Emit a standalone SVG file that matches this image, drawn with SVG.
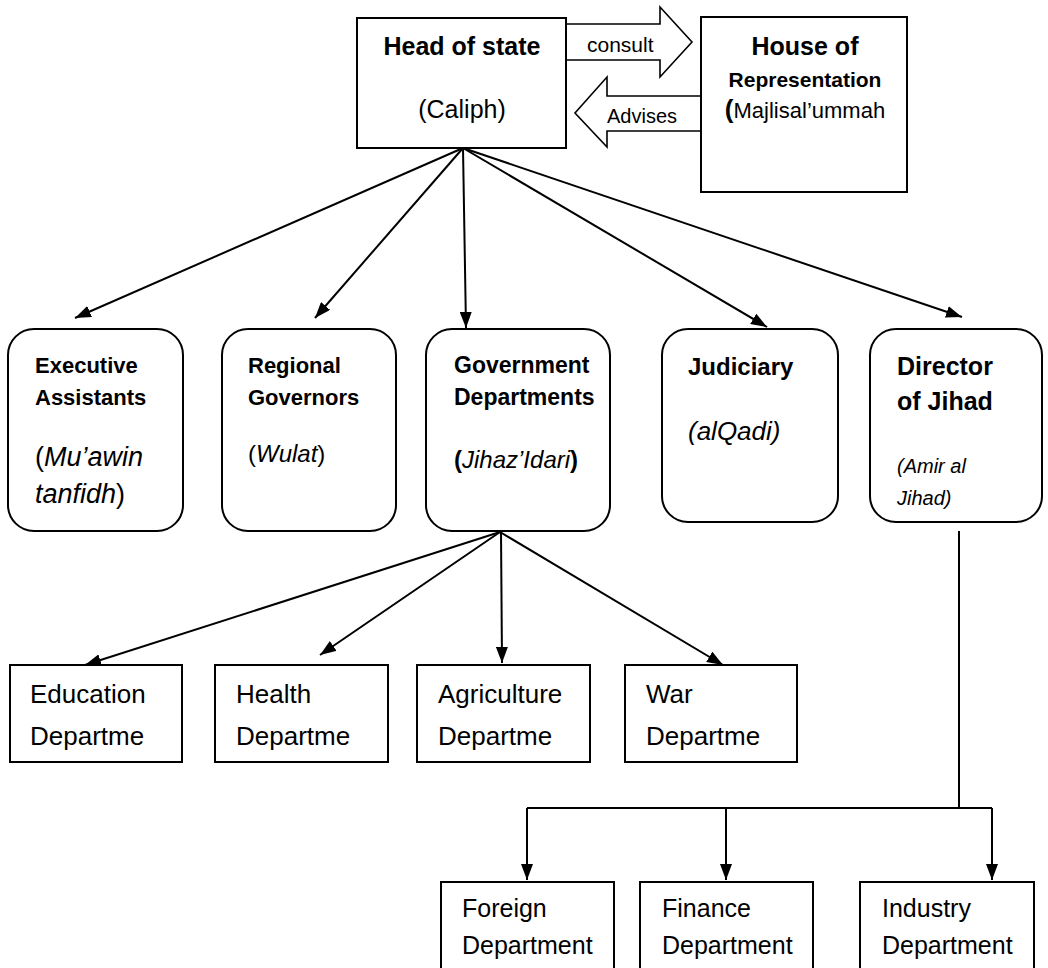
<svg xmlns="http://www.w3.org/2000/svg" width="1048" height="968" viewBox="0 0 1048 968">
<style>
.box{fill:#fff;stroke:#000;stroke-width:2}
.ln{fill:none;stroke:#000;stroke-width:2}
.blk{fill:#fff;stroke:#000;stroke-width:1.6}
text{font-family:"Liberation Sans",Arial,sans-serif;fill:#000}
.b{font-weight:bold}
.i{font-style:italic}
</style>
<defs>
<marker id="ah" viewBox="0 0 16 12" refX="16" refY="6" markerWidth="16" markerHeight="12" markerUnits="userSpaceOnUse" orient="auto">
<path d="M0,0 L16,6 L0,12 z" fill="#000"/>
</marker>
</defs>
<rect width="1048" height="968" fill="#fff"/>

<g id="connectors">
<polygon class="blk" points="566,24 660,24 660,7 692,42 660,77 660,60 566,60"/>
<text x="587" y="52" font-size="21">consult</text>
<polygon class="blk" points="701,96 607,96 607,77 575,113 607,147 607,131 701,131"/>
<text x="607" y="123" font-size="20">Advises</text>
<g marker-end="url(#ah)">
<line class="ln" x1="463" y1="148" x2="75" y2="318"/>
<line class="ln" x1="463" y1="148" x2="315" y2="318"/>
<line class="ln" x1="463" y1="148" x2="466" y2="328"/>
<line class="ln" x1="463" y1="148" x2="767" y2="327"/>
<line class="ln" x1="463" y1="148" x2="962" y2="317"/>
<line class="ln" x1="500" y1="532" x2="85" y2="665"/>
<line class="ln" x1="500" y1="532" x2="320" y2="655"/>
<line class="ln" x1="501" y1="532" x2="502" y2="663"/>
<line class="ln" x1="500" y1="532" x2="723" y2="665"/>
<line class="ln" x1="527" y1="808" x2="527" y2="880"/>
<line class="ln" x1="726" y1="808" x2="726" y2="880"/>
<line class="ln" x1="992" y1="808" x2="992" y2="880"/>
</g>
<polyline class="ln" points="959,531 959,808"/>
<polyline class="ln" points="527,808 992,808"/>
</g>

<g id="head">
<rect class="box" x="357" y="18" width="209" height="130"/>
<text class="b" x="462" y="55" font-size="25" text-anchor="middle">Head of state</text>
<text x="462" y="118" font-size="25" text-anchor="middle">(Caliph)</text>
</g>

<g id="house">
<rect class="box" x="701" y="17" width="206" height="175"/>
<text class="b" x="805" y="55" font-size="25" text-anchor="middle">House of</text>
<text class="b" x="805" y="87" font-size="21" text-anchor="middle">Representation</text>
<text x="805" y="118" font-size="22" text-anchor="middle"><tspan class="b" font-size="26">(</tspan>Majlisal’ummah</text>
</g>

<g id="executive">
<rect class="box" x="8" y="329" width="175" height="202" rx="26"/>
<text class="b" x="35" y="373" font-size="22">Executive</text>
<text class="b" x="35" y="405" font-size="22">Assistants</text>
<text x="35" y="466" font-size="27">(<tspan class="i">Mu’awin</tspan></text>
<text x="35" y="503" font-size="27"><tspan class="i">tanfidh</tspan>)</text>
</g>

<g id="regional">
<rect class="box" x="222" y="329" width="174" height="202" rx="26"/>
<text class="b" x="248" y="373" font-size="22">Regional</text>
<text class="b" x="248" y="405" font-size="22">Governors</text>
<text x="248" y="462" font-size="24">(<tspan class="i">Wulat</tspan>)</text>
</g>

<g id="government">
<rect class="box" x="426" y="329" width="184" height="202" rx="26"/>
<text class="b" x="454" y="373" font-size="23">Government</text>
<text class="b" x="454" y="405" font-size="23">Departments</text>
<text x="454" y="468" font-size="24"><tspan class="b">(</tspan><tspan class="i">Jihaz’Idari</tspan><tspan class="b">)</tspan></text>
</g>

<g id="judiciary">
<rect class="box" x="662" y="329" width="176" height="193" rx="26"/>
<text class="b" x="688" y="375" font-size="24">Judiciary</text>
<text class="i" x="688" y="440" font-size="26">(alQadi)</text>
</g>

<g id="director">
<rect class="box" x="870" y="329" width="172" height="193" rx="26"/>
<text class="b" x="897" y="375" font-size="25">Director</text>
<text class="b" x="897" y="410" font-size="25">of Jihad</text>
<text class="i" x="897" y="473" font-size="20">(Amir al</text>
<text class="i" x="897" y="505" font-size="20">Jihad)</text>
</g>

<g id="education">
<rect class="box" x="10" y="665" width="172" height="97"/>
<text x="30" y="703" font-size="26">Education</text>
<text x="30" y="745" font-size="26">Departme</text>
</g>

<g id="health">
<rect class="box" x="215" y="665" width="173" height="97"/>
<text x="236" y="703" font-size="26">Health</text>
<text x="236" y="745" font-size="26">Departme</text>
</g>

<g id="agriculture">
<rect class="box" x="417" y="665" width="173" height="97"/>
<text x="438" y="703" font-size="26">Agriculture</text>
<text x="438" y="745" font-size="26">Departme</text>
</g>

<g id="war">
<rect class="box" x="625" y="665" width="172" height="97"/>
<text x="646" y="703" font-size="26">War</text>
<text x="646" y="745" font-size="26">Departme</text>
</g>

<g id="foreign">
<rect class="box" x="441" y="882" width="173" height="120"/>
<text x="462" y="917" font-size="25">Foreign</text>
<text x="462" y="954" font-size="25">Department</text>
</g>

<g id="finance">
<rect class="box" x="640" y="882" width="173" height="120"/>
<text x="662" y="917" font-size="25">Finance</text>
<text x="662" y="954" font-size="25">Department</text>
</g>

<g id="industry">
<rect class="box" x="860" y="882" width="174" height="120"/>
<text x="882" y="917" font-size="25">Industry</text>
<text x="882" y="954" font-size="25">Department</text>
</g>
</svg>
